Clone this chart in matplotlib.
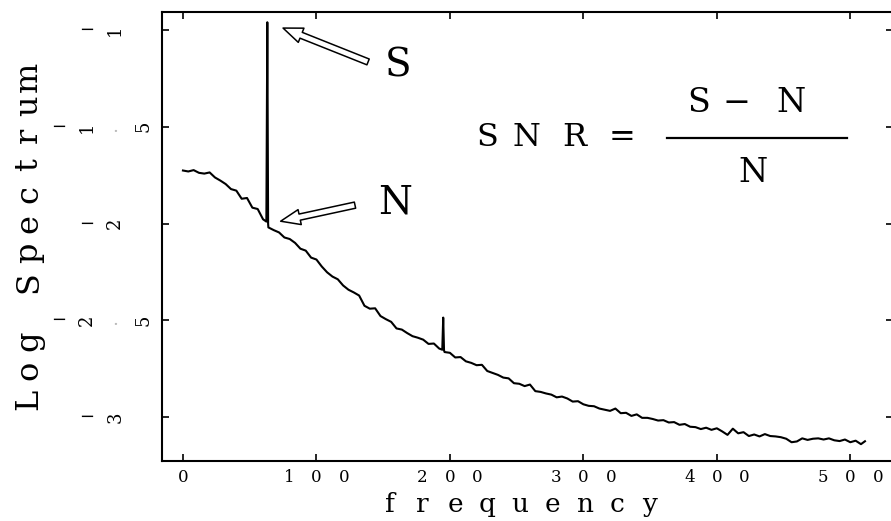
import numpy as np
import matplotlib
matplotlib.use("Agg")
import matplotlib.pyplot as plt
from matplotlib.lines import Line2D

W, H = 891, 521

# ---------------- data ----------------
freq_step = 4  # regular sampling of the noise floor, frequency 0..508
spectrum = [
    -1.726, -1.731, -1.724, -1.738, -1.742, -1.736, -1.762, -1.778,
    -1.796, -1.822, -1.830, -1.872, -1.868, -1.918, -1.925, -1.978,
    -2.020, -2.034, -2.046, -2.072, -2.080, -2.100, -2.130, -2.140,
    -2.176, -2.186, -2.222, -2.252, -2.274, -2.288, -2.320, -2.342,
    -2.356, -2.372, -2.425, -2.440, -2.438, -2.478, -2.494, -2.508,
    -2.542, -2.548, -2.566, -2.582, -2.590, -2.600, -2.622, -2.620,
    -2.646, -2.664, -2.668, -2.692, -2.690, -2.712, -2.720, -2.732,
    -2.730, -2.762, -2.772, -2.782, -2.796, -2.800, -2.825, -2.828,
    -2.840, -2.832, -2.866, -2.870, -2.878, -2.884, -2.898, -2.894,
    -2.904, -2.920, -2.918, -2.934, -2.942, -2.944, -2.956, -2.962,
    -2.968, -2.956, -2.980, -2.978, -2.994, -2.986, -3.004, -3.004,
    -3.010, -3.018, -3.016, -3.028, -3.026, -3.040, -3.036, -3.050,
    -3.052, -3.062, -3.055, -3.066, -3.058, -3.074, -3.092, -3.060,
    -3.084, -3.078, -3.098, -3.090, -3.100, -3.088, -3.098, -3.100,
    -3.104, -3.112, -3.130, -3.126, -3.110, -3.118, -3.112, -3.110,
    -3.116, -3.110, -3.120, -3.124, -3.116, -3.130, -3.122, -3.140,
]
tail_freq = [511]
tail_val = [-3.125]
# the signal peak (S) and a small secondary peak
spike_freq = [62.5, 63.2, 63.8, 194.3, 195.0, 195.6]
spike_val = [-1.990, -0.960, -2.000, -2.652, -2.486, -2.655]

xticks = [0, 100, 200, 300, 400, 500]
xticklabels = ["0", "100", "200", "300", "400", "500"]
yticks = [-1.0, -1.5, -2.0, -2.5, -3.0]
yticklabels = ["-1", "-1.5", "-2", "-2.5", "-3"]
xlabel = "frequency"
ylabel = "Log Spectrum"

S_point = (75.0, -0.99)     # arrow head near top of peak
S_tail = (138.7, -1.165)
N_point = (73.2, -1.988)    # arrow head at foot of peak
N_tail = (128.9, -1.905)

# ---------------- figure ----------------
fig = plt.figure(figsize=(W / 100, H / 100), dpi=100)
ax = fig.add_axes([162 / W, 1 - 461 / H, (893 - 162) / W, (461 - 12) / H])

f_all = np.concatenate([np.arange(len(spectrum)) * freq_step, tail_freq, spike_freq])
v_all = np.concatenate([spectrum, tail_val, spike_val])
order = np.argsort(f_all, kind="stable")
ax.plot(f_all[order], v_all[order], color="black", lw=1.5)

ax.set_xlim(-15.7, 532)
ax.set_ylim(-3.227, -0.907)
ax.set_xticks(xticks)
ax.set_yticks(yticks)
ax.tick_params(direction="in", length=5, width=1.2, top=True, right=True,
               labelbottom=False, labelleft=False)
for sp in ax.spines.values():
    sp.set_linewidth(1.5)

FONT = "DejaVu Serif"


def px(x, y):
    return x / W, 1 - y / H


def spaced(xc, yc, s, pitch, size, vertical=False, va="center", rot_digits=False):
    n = len(s)
    for i, ch in enumerate(s):
        off = (i - (n - 1) / 2) * pitch
        if vertical:
            x, y = xc, yc - off
            rot = 90
        else:
            x, y = xc + off, yc
            rot = 90 if (rot_digits and ch.isdigit()) else 0
        c = "black"
        if ch == ".":
            c = "#b8b8b8"
        if ch == "-":
            ch = "\u2212"
        fig.text(*px(x, y), ch, fontsize=size, family=FONT, rotation=rot,
                 rotation_mode="anchor", ha="center", va=va, color=c)


# x tick labels (spread characters, as in the original)
for v, lab in zip(xticks, xticklabels):
    xd, _ = ax.transData.transform((v, 0))
    spaced(xd, 478, lab, 27.5, 12)

# y tick labels: characters centred at x~101, digits drawn rotated
for v, lab in zip(yticks, yticklabels):
    _, yd = ax.transData.transform((0, v))
    spaced(101, H - yd, lab, 28.5, 13, rot_digits=True)

# axis labels
spaced(520, 512, xlabel, 32.5, 19, va="baseline")
spaced(37, 238, ylabel, 29.3, 23, vertical=True, va="baseline")

# hollow arrows
style = "simple,head_length=1.4,head_width=1.1,tail_width=0.45"
for head, tail in [(S_point, S_tail), (N_point, N_tail)]:
    ax.annotate("", xy=head, xytext=tail,
                arrowprops=dict(arrowstyle=style, fc="white", ec="black", lw=1.1,
                                shrinkA=0, shrinkB=0, mutation_scale=10))

fig.text(*px(398, 66), "S", fontsize=28, family=FONT, ha="center", va="center")
fig.text(*px(395, 203), "N", fontsize=28, family=FONT, ha="center", va="center")

# SNR formula
for ch, x in zip("SNR=", [487, 526, 574, 622]):
    fig.text(*px(x, 137), ch, fontsize=23, family=FONT, ha="center", va="center")
for ch, x in zip("S\u2212N", [699, 737, 791]):
    fig.text(*px(x, 103), ch, fontsize=24, family=FONT, ha="center", va="center")
fig.text(*px(753, 173), "N", fontsize=24, family=FONT, ha="center", va="center")
fig.add_artist(Line2D([667 / W, 847 / W], [1 - 138 / H] * 2, color="black", lw=1.6))

fig.savefig("out.png", dpi=100)
